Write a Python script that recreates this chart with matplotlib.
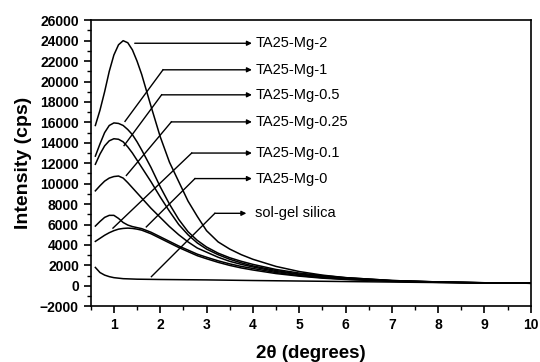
import numpy as np
import matplotlib.pyplot as plt
from matplotlib.ticker import MultipleLocator

plt.rcParams['font.family'] = ['Liberation Sans', 'DejaVu Sans']

# scattering curves
two_theta = [0.6, 0.7, 0.8, 0.9, 1.0, 1.1, 1.2, 1.3, 1.4, 1.5, 1.6, 1.8, 2.0,
             2.2, 2.4, 2.6, 2.8, 3.0, 3.25, 3.5, 3.75, 4.0, 4.5, 5.0, 5.5,
             6.0, 7.0, 8.0, 9.0, 10.0]
mg_2 = [15700, 17200, 19000, 21000, 22600, 23600, 24000, 23800, 23100, 22000,
        20700, 17600, 14600, 12100, 10200, 8300, 6800, 5400, 4300, 3600,
        3050, 2600, 1900, 1400, 1050, 800, 520, 380, 300, 250]
mg_1 = [12700, 13900, 15000, 15700, 15950, 15900, 15700, 15300, 14800, 14100,
        13300, 11600, 9700, 8000, 6500, 5300, 4450, 3800, 3200, 2750,
        2400, 2100, 1600, 1250, 1000, 800, 520, 380, 300, 250]
mg_05 = [11900, 12900, 13700, 14200, 14400, 14350, 14100, 13600, 13000, 12300,
         11600, 10200, 8700, 7300, 6000, 5000, 4200, 3600, 3050, 2600,
         2250, 1950, 1500, 1150, 930, 760, 500, 370, 295, 250]
mg_025 = [9300, 9800, 10250, 10550, 10700, 10750, 10550, 10100, 9600, 9100,
          8600, 7600, 6700, 5800, 5000, 4300, 3700, 3300, 2800, 2400,
          2100, 1850, 1400, 1100, 880, 720, 480, 360, 290, 250]
mg_01 = [5850, 6300, 6700, 6900, 6900, 6600, 6200, 5950, 5800, 5700,
         5600, 5250, 4800, 4350, 3900, 3500, 3100, 2800, 2450, 2150,
         1900, 1700, 1300, 1000, 800, 650, 460, 350, 290, 250]
mg_0 = [4350, 4650, 4950, 5200, 5400, 5550, 5620, 5650, 5620, 5550,
        5450, 5100, 4650, 4200, 3750, 3350, 2950, 2650, 2300, 2000,
        1750, 1550, 1200, 950, 750, 620, 440, 340, 280, 250]

silica_x = [0.6, 0.7, 0.8, 0.9, 1.0, 1.2, 1.5, 2.0, 3.0, 4.0, 5.0, 6.0, 7.0,
            8.0, 9.0, 10.0]
silica = [1800, 1300, 1050, 900, 800, 700, 650, 620, 580, 520, 470, 420, 370,
          320, 280, 250]

# label arrows: text row, start of horizontal leg, end of diagonal leg
labels = ['TA25-Mg-2', 'TA25-Mg-1', 'TA25-Mg-0.5', 'TA25-Mg-0.25',
          'TA25-Mg-0.1', 'TA25-Mg-0', 'sol-gel silica']
label_y = [23750, 21150, 18700, 16050, 13000, 10500, 7100]
leg_x = [1.45, 2.06, 2.03, 2.24, 2.68, 2.75, 3.18]
diag_x = [None, 1.24, 1.22, 1.27, 0.98, 1.70, 1.81]
diag_y = [None, 16100, 13730, 10810, 5650, 5770, 900]
tip_x = [3.98, 3.98, 3.98, 3.98, 3.98, 3.98, 3.86]

fig = plt.figure(figsize=(5.4, 3.62), dpi=100)
ax = fig.add_axes([0.168, 0.154, 0.815, 0.79])

for ys in (mg_2, mg_1, mg_05, mg_025, mg_01, mg_0):
    ax.plot(two_theta, ys, color='black', lw=1.1)
ax.plot(silica_x, silica, color='black', lw=1.1)

for name, ly, lx, dx, dy, tx in zip(labels, label_y, leg_x, diag_x, diag_y, tip_x):
    if dx is not None:
        ax.plot([dx, lx], [dy, ly], color='black', lw=1.0)
    ax.annotate('', xy=(tx, ly), xytext=(lx, ly),
                arrowprops=dict(arrowstyle='-|>', color='black', lw=1.0,
                                mutation_scale=7, shrinkA=0, shrinkB=0))
    ax.text(4.05, ly, name, fontsize=10.5, va='center', ha='left')

ax.set_xlim(0.5, 10)
ax.set_ylim(-2000, 26000)
ax.xaxis.set_major_locator(MultipleLocator(1))
ax.xaxis.set_minor_locator(MultipleLocator(0.5))
ax.yaxis.set_major_locator(MultipleLocator(2000))
ax.yaxis.set_minor_locator(MultipleLocator(1000))
ax.tick_params(which='major', direction='out', length=5, width=1.2,
               top=False, right=False, labelsize=10)
ax.tick_params(which='minor', direction='out', length=3, width=1.0,
               top=False, right=False)
for lab in ax.get_xticklabels() + ax.get_yticklabels():
    lab.set_fontweight('bold')
for sp in ax.spines.values():
    sp.set_linewidth(1.2)

ax.set_xlabel('2θ (degrees)', fontsize=13.5, fontweight='bold', labelpad=9)
ax.set_ylabel('Intensity (cps)', fontsize=14, fontweight='bold', labelpad=6)

fig.savefig('out.png', dpi=100)
